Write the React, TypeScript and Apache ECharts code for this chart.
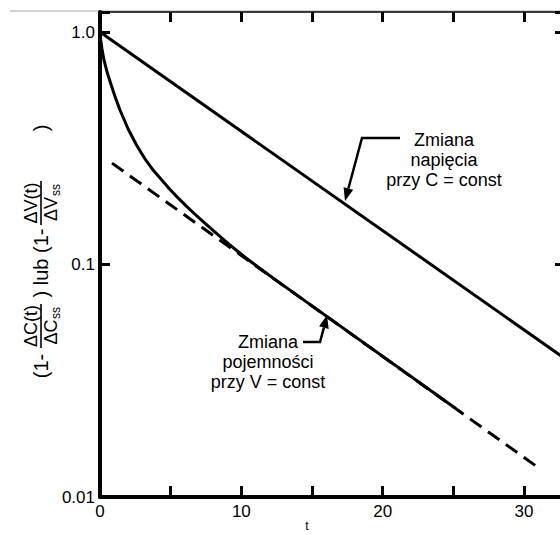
import React, { useEffect, useRef } from 'react';
import * as echarts from 'echarts';

// ---- data ----
const voltageCurve: [number, number][] = [[0, 1.0], [33, 0.039]];
const capacitanceCurve: [number, number][] = [
  [0, 1.0], [0.04, 0.933], [0.14, 0.847], [0.28, 0.759], [0.5, 0.673], [0.83, 0.582],
  [1.1, 0.521], [1.42, 0.461], [2.0, 0.382], [2.6, 0.325], [3.18, 0.285], [3.8, 0.253],
  [4.37, 0.231], [4.95, 0.2104], [5.54, 0.193], [6.13, 0.178], [6.72, 0.1646], [7.3, 0.1529],
  [7.9, 0.142], [8.5, 0.1319], [9.08, 0.123], [9.67, 0.1149], [10.26, 0.1076], [10.85, 0.101],
  [11.44, 0.095], [12.62, 0.0842], [25.1, 0.02419],
];
const asymptoteLine: [number, number][] = [[0.85, 0.273], [31.07, 0.0133]];
const xLabelValues = [0, 10, 20, 30];
const yLabelMap: Record<string, string> = { '-2': '0.01', '-1': '0.1', '0': '1.0' };

const FONT = '"Liberation Sans", Arial, Helvetica, sans-serif';
const INK = '#000';

export default function App() {
  const ref = useRef<HTMLDivElement>(null);
  useEffect(() => {
    if (!ref.current) return;
    const chart = echarts.init(ref.current, undefined, { renderer: 'svg' });

    const yFmt = (v: number) => {
      const l = Math.log10(v);
      const r = Math.round(l);
      if (Math.abs(l - r) < 1e-6 && yLabelMap[String(r)] !== undefined) return yLabelMap[String(r)];
      return '';
    };
    const xFmt = (v: number) => (xLabelValues.indexOf(Math.round(v * 1000) / 1000) >= 0 ? String(v) : '');

    const fracChildren = (cx: number, num: string, den: string, w: number) => [
      { type: 'text', x: cx, y: -10, style: { text: num, fill: INK, fontSize: 18, fontFamily: FONT, align: 'center', verticalAlign: 'middle' } },
      { type: 'line', shape: { x1: cx - w / 2, y1: 0, x2: cx + w / 2, y2: 0 }, style: { stroke: INK, lineWidth: 1.6 } },
      { type: 'text', x: cx - 6, y: 10, style: { text: den, fill: INK, fontSize: 18, fontFamily: FONT, align: 'center', verticalAlign: 'middle' } },
      { type: 'text', x: cx + 7, y: 15, style: { text: 'ss', fill: INK, fontSize: 12, fontFamily: FONT, align: 'left', verticalAlign: 'middle' } },
    ];

    const option: any = {
      animation: false,
      backgroundColor: '#fff',
      grid: { left: 100, top: 12, width: 465, height: 485, containLabel: false, outerBoundsMode: 'none' },
      xAxis: [
        {
          type: 'value', position: 'bottom', min: 0, max: 32.9, interval: 5,
          axisLine: { show: true, onZero: false, lineStyle: { color: INK, width: 4 } },
          axisTick: { show: true, inside: true, length: 11, lineStyle: { color: INK, width: 3 } },
          axisLabel: { show: true, formatter: xFmt, color: INK, fontSize: 17, fontFamily: FONT, margin: 6 },
          splitLine: { show: false },
        },
        {
          type: 'value', position: 'top', min: 0, max: 32.9, interval: 5,
          axisLine: { show: true, onZero: false, lineStyle: { color: INK, width: 1.5 } },
          axisTick: { show: true, inside: true, length: 10, lineStyle: { color: INK, width: 3 } },
          axisLabel: { show: false },
          splitLine: { show: false },
        },
      ],
      yAxis: [
        {
          type: 'log', logBase: 10, position: 'left', min: 0.01, max: 1.22,
          axisLine: { show: true, onZero: false, lineStyle: { color: INK, width: 4 } },
          axisTick: { show: true, inside: true, length: 10, lineStyle: { color: INK, width: 3 } },
          axisLabel: { show: true, formatter: yFmt, color: INK, fontSize: 17, fontFamily: FONT, margin: 5 },
          splitLine: { show: false },
        },
        {
          type: 'log', logBase: 10, position: 'right', min: 0.01, max: 1.22,
          axisLine: { show: true, onZero: false, lineStyle: { color: INK, width: 1.5 } },
          axisTick: { show: true, inside: true, length: 10, lineStyle: { color: INK, width: 3 } },
          axisLabel: { show: false },
          splitLine: { show: false },
        },
      ],
      series: [
        {
          name: 'voltage', type: 'line', xAxisIndex: 0, yAxisIndex: 0, data: voltageCurve,
          symbol: 'none', lineStyle: { color: INK, width: 3 },
        },
        {
          name: 'asymptote', type: 'line', xAxisIndex: 0, yAxisIndex: 0, data: asymptoteLine,
          symbol: 'none', lineStyle: { color: INK, width: 3, type: [14, 8] },
        },
        {
          name: 'capacitance', type: 'line', xAxisIndex: 0, yAxisIndex: 0, data: capacitanceCurve,
          symbol: 'none', smooth: false, lineStyle: { color: INK, width: 3, join: 'round' },
        },
      ],
      graphic: [
        { type: 'line', shape: { x1: 10, y1: 11, x2: 560, y2: 11 }, style: { stroke: '#aaa', lineWidth: 1 }, z: 0 },
        // voltage annotation
        {
          type: 'text', x: 444, y: 160,
          style: { text: 'Zmiana\nnapięcia\nprzy C = const', fill: INK, fontSize: 18, fontFamily: FONT, align: 'center', verticalAlign: 'middle', lineHeight: 20 },
        },
        { type: 'polyline', shape: { points: [[400, 138], [362, 138], [348.4, 188.5]] }, style: { stroke: INK, lineWidth: 2.5, fill: 'none' } },
        { type: 'polygon', shape: { points: [[345, 201], [353.2, 189.8], [343.6, 187.2]] }, style: { fill: INK } },
        // capacitance annotation
        {
          type: 'text', x: 268, y: 362,
          style: { text: 'Zmiana\npojemności\nprzy V = const', fill: INK, fontSize: 18, fontFamily: FONT, align: 'center', verticalAlign: 'middle', lineHeight: 20 },
        },
        { type: 'polyline', shape: { points: [[303, 342], [320, 342], [323.9, 327.6]] }, style: { stroke: INK, lineWidth: 2.5, fill: 'none' } },
        { type: 'polygon', shape: { points: [[327, 315], [328.7, 328.9], [319.1, 326.3]] }, style: { fill: INK } },
        // x axis name
        { type: 'text', x: 307, y: 520, style: { text: 't', fill: INK, fontSize: 12, fontFamily: FONT, align: 'center', verticalAlign: 'top' } },
        // y axis title (rotated)
        {
          type: 'group', x: 41, y: 248, rotation: Math.PI / 2,
          children: [
            { type: 'text', x: -118, y: 0, style: { text: '(1-', fill: INK, fontSize: 20, fontFamily: FONT, align: 'center', verticalAlign: 'middle' } },
            ...fracChildren(-78, 'ΔC(t)', 'ΔC', 44),
            { type: 'text', x: -15, y: 0, style: { text: ') lub (1-', fill: INK, fontSize: 20, fontFamily: FONT, align: 'center', verticalAlign: 'middle' } },
            ...fracChildren(45, 'ΔV(t)', 'ΔV', 44),
            { type: 'text', x: 120, y: 0, style: { text: ')', fill: INK, fontSize: 20, fontFamily: FONT, align: 'center', verticalAlign: 'middle' } },
          ],
        },
      ],
    };
    chart.setOption(option);
    return () => chart.dispose();
  }, []);
  return <div ref={ref} style={{ position: 'fixed', left: 0, top: 0, width: 560, height: 535, background: '#fff' }} />;
}
